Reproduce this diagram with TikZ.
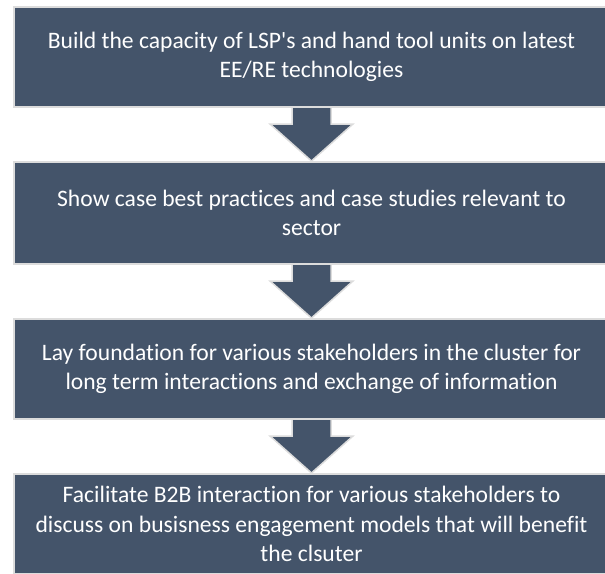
\documentclass[tikz,border=0pt]{standalone}
\usepackage{fontspec}
\setmainfont{Carlito}[Ligatures=NoCommon]
\usepackage{tikz}
\usetikzlibrary{calc}
\definecolor{slate}{HTML}{44546A}
\definecolor{rim}{HTML}{DCDCDC}

\begin{document}
\begin{tikzpicture}[x=1pt, y=1pt,
    stepbox/.style={draw=rim, line width=2pt, fill=slate, text=white,
        minimum width=595, minimum height=100, align=center,
        font=\fontsize{23.6}{29.5}\selectfont},
    blockarrow/.style={draw=rim, line width=1.5pt, fill=slate, line join=miter}]
\useasboundingbox (0,0) rectangle (605,-573);

% steps
\node[stepbox] (box1) at (311.5,-57) {Build the capacity of LSP\textquotesingle s and hand tool units on latest\\EE/RE technologies};
\node[stepbox, minimum height=102] (box2) at (311.5,-213) {Show case best practices and case studies relevant to\\sector};
\node[stepbox] (box3) at (311.5,-369) {Lay foundation for various stakeholders in the cluster for\\long term interactions and exchange of information};
\node[stepbox] (box4) at (311.5,-524) {Facilitate B2B interaction for various stakeholders to\\discuss on busisness engagement models that will benefit\\the clsuter};

% down arrows between the steps
\foreach \a/\b in {box1/box2, box2/box3, box3/box4} {
    \draw[blockarrow] ($(\a.south)+(-19.5,0)$) -- ++(0,-16) -- ++(-22,0)
        -- (\b.north) -- ($(\a.south)+(41.5,-16)$) -- ++(-22,0)
        -- ($(\a.south)+(19.5,0)$);
}
\end{tikzpicture}
\end{document}
